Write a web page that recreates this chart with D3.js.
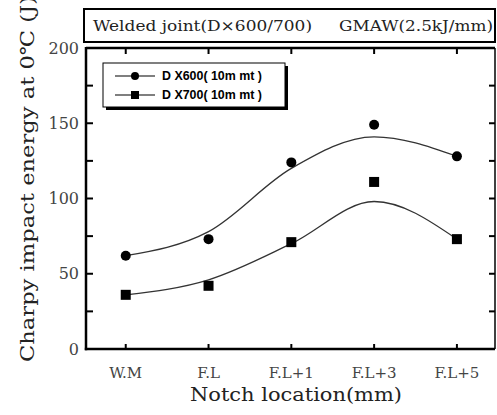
<!DOCTYPE html>
<html>
<head>
<meta charset="utf-8">
<script src="https://cdnjs.cloudflare.com/ajax/libs/d3/7.8.5/d3.min.js"></script>
<style>
  body { margin: 0; background: #fff; }
  svg { display: block; }
  .serif { font-family: "DejaVu Serif", "Liberation Serif", serif; fill: #222; }
</style>
</head>
<body>
<div id="chart"></div>
<script>
// notch locations
var categories = ['W.M', 'F.L', 'F.L+1', 'F.L+3', 'F.L+5'];

// measured Charpy energy (J)
var dx600 = [62, 73, 124, 149, 128];
var dx700 = [36, 42, 71, 111, 73];

// fitted trend curves as drawn in the figure
var dx600Fit = [62, 78, 120, 141, 128];
var dx700Fit = [36, 46, 70, 98, 73];

var yTicks = [0, 50, 100, 150, 200];
var yMinor = [25, 75, 125, 175];

var seriesNames = ['D X600( 10m mt )', 'D X700( 10m mt )'];

var W = 497, H = 415;
var plotL = 86, plotR = 495, plotT = 48, plotB = 349;

var svg = d3.select('#chart').append('svg')
  .attr('width', W)
  .attr('height', H);

var x = d3.scaleLinear().domain([-0.48, 4.46]).range([plotL, plotR]);
var y = d3.scaleLinear().domain([0, 200]).range([plotB, plotT]);

// title box
svg.append('rect')
  .attr('x', 84).attr('y', 9)
  .attr('width', 411).attr('height', 33)
  .attr('fill', 'none').attr('stroke', '#000').attr('stroke-width', 2);

svg.append('text').attr('class', 'serif')
  .attr('x', 93).attr('y', 31)
  .attr('font-size', 15)
  .attr('textLength', 219).attr('lengthAdjust', 'spacingAndGlyphs')
  .text('Welded joint(D\u00d7600/700)');

svg.append('text').attr('class', 'serif')
  .attr('x', 339).attr('y', 31)
  .attr('font-size', 15)
  .attr('textLength', 154).attr('lengthAdjust', 'spacingAndGlyphs')
  .text('GMAW(2.5kJ/mm)');

// frame
var g = svg.append('g');

g.append('line').attr('x1', plotR).attr('x2', plotR).attr('y1', plotT).attr('y2', plotB)
  .attr('stroke', '#000').attr('stroke-width', 1.5);
g.append('line').attr('x1', plotL).attr('x2', plotR).attr('y1', plotT).attr('y2', plotT)
  .attr('stroke', '#000').attr('stroke-width', 2.5);

// ticks, pointing inward
var ticksG = g.append('g').attr('stroke', '#000').attr('stroke-width', 2);
var innerY = yTicks.concat(yMinor).filter(function (d) { return d > 0 && d < 200; });

ticksG.selectAll('.yt')
  .data(innerY)
  .enter().append('line')
  .attr('x1', plotL).attr('x2', plotL + 7)
  .attr('y1', function (d) { return y(d); })
  .attr('y2', function (d) { return y(d); });

ticksG.selectAll('.yr')
  .data(innerY)
  .enter().append('line')
  .attr('x1', plotR).attr('x2', plotR - 6)
  .attr('y1', function (d) { return y(d); })
  .attr('y2', function (d) { return y(d); });

ticksG.selectAll('.xb')
  .data(categories)
  .enter().append('line')
  .attr('x1', function (d, i) { return x(i); })
  .attr('x2', function (d, i) { return x(i); })
  .attr('y1', plotB).attr('y2', plotB - 5);

ticksG.selectAll('.xt')
  .data(categories)
  .enter().append('line')
  .attr('x1', function (d, i) { return x(i); })
  .attr('x2', function (d, i) { return x(i); })
  .attr('y1', plotT).attr('y2', plotT + 6);

g.append('line').attr('x1', plotL).attr('x2', plotL).attr('y1', plotT - 1).attr('y2', plotB + 1.2)
  .attr('stroke', '#000').attr('stroke-width', 2.5);
g.append('line').attr('x1', plotL - 1.2).attr('x2', plotR).attr('y1', plotB).attr('y2', plotB)
  .attr('stroke', '#000').attr('stroke-width', 2.5);

// tick labels
g.selectAll('.ylab')
  .data(yTicks)
  .enter().append('text')
  .attr('class', 'serif')
  .attr('x', 79)
  .attr('y', function (d) { return y(d); })
  .attr('dy', '0.35em')
  .attr('text-anchor', 'end')
  .attr('font-size', 16)
  .style('fill', '#444')
  .text(function (d) { return d; });

g.selectAll('.xlab')
  .data(categories)
  .enter().append('text')
  .attr('class', 'serif')
  .attr('x', function (d, i) { return x(i); })
  .attr('y', 378)
  .attr('text-anchor', 'middle')
  .attr('font-size', 15)
  .style('fill', '#444')
  .text(function (d) { return d; });

// axis titles
svg.append('text').attr('class', 'serif')
  .attr('transform', 'translate(34,' + 362 + ') rotate(-90)')
  .attr('font-size', 19)
  .attr('textLength', 366).attr('lengthAdjust', 'spacingAndGlyphs')
  .text('Charpy impact energy at 0\u2103 (J)');

svg.append('text').attr('class', 'serif')
  .attr('x', 190).attr('y', 401)
  .attr('font-size', 19)
  .attr('textLength', 212).attr('lengthAdjust', 'spacingAndGlyphs')
  .text('Notch location(mm)');

// fitted curves
var line = d3.line()
  .x(function (d, i) { return x(i); })
  .y(function (d) { return y(d); })
  .curve(d3.curveMonotoneX);

[dx600Fit, dx700Fit].forEach(function (fit) {
  g.append('path')
    .attr('d', line(fit))
    .attr('fill', 'none')
    .attr('stroke', '#333')
    .attr('stroke-width', 1.3);
});

// data markers
g.selectAll('.c600')
  .data(dx600)
  .enter().append('circle')
  .attr('cx', function (d, i) { return x(i); })
  .attr('cy', function (d) { return y(d); })
  .attr('r', 5)
  .attr('fill', '#000');

g.selectAll('.s700')
  .data(dx700)
  .enter().append('rect')
  .attr('x', function (d, i) { return x(i) - 5; })
  .attr('y', function (d) { return y(d) - 5; })
  .attr('width', 10).attr('height', 10)
  .attr('fill', '#000');

// legend
var lg = svg.append('g');
lg.append('rect')
  .attr('x', 106).attr('y', 66).attr('width', 182).attr('height', 44)
  .attr('fill', '#000');
lg.append('rect')
  .attr('x', 103).attr('y', 63).attr('width', 182).attr('height', 44)
  .attr('fill', '#fff').attr('stroke', '#000').attr('stroke-width', 1);

seriesNames.forEach(function (name, i) {
  var ry = 76 + i * 19;
  lg.append('line')
    .attr('x1', 115).attr('x2', 155).attr('y1', ry).attr('y2', ry)
    .attr('stroke', '#000').attr('stroke-width', 1.2);
  if (i === 0) {
    lg.append('circle').attr('cx', 135).attr('cy', ry).attr('r', 4).attr('fill', '#000');
  } else {
    lg.append('rect').attr('x', 131).attr('y', ry - 4).attr('width', 8).attr('height', 8).attr('fill', '#000');
  }
  lg.append('text')
    .attr('x', 162).attr('y', ry)
    .attr('dy', '0.35em')
    .attr('font-family', 'Arial, "Liberation Sans", sans-serif')
    .attr('font-size', 12)
    .attr('font-weight', 600)
    .attr('textLength', 100).attr('lengthAdjust', 'spacingAndGlyphs')
    .text(name);
});
</script>
</body>
</html>
